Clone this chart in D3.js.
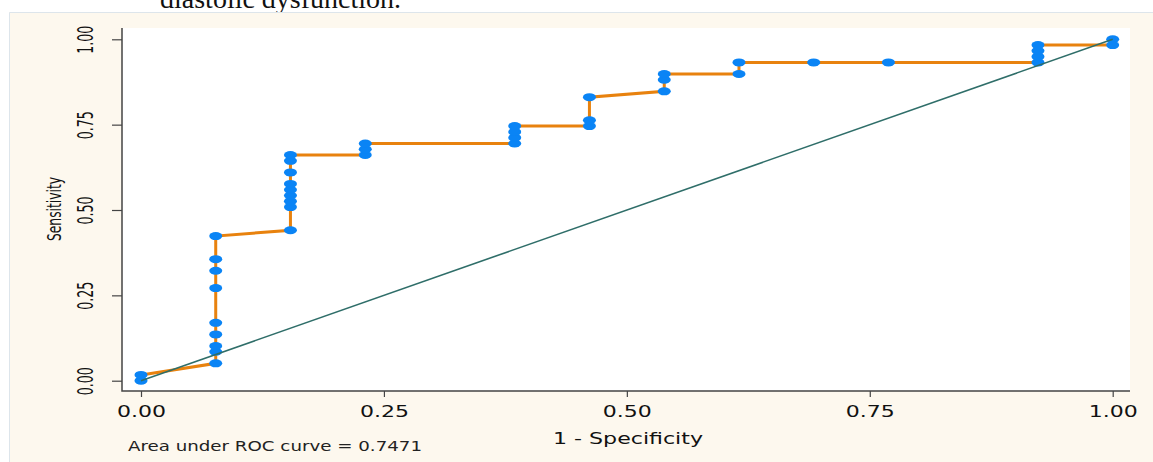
<!DOCTYPE html>
<html>
<head>
<meta charset="utf-8">
<script src="https://cdn.jsdelivr.net/npm/d3@7"></script>
<style>
  html, body { margin: 0; padding: 0; background: #fff; }
  svg { display: block; }
</style>
</head>
<body>
<svg id="Chart"></svg>
<script>
// ROC curve points (1 - specificity, sensitivity)
let fpr = [0, 0, 0.0769, 0.0769, 0.0769, 0.0769, 0.0769, 0.0769, 0.0769, 0.0769, 0.0769,
    0.1538, 0.1538, 0.1538, 0.1538, 0.1538, 0.1538, 0.1538, 0.1538, 0.1538,
    0.2308, 0.2308, 0.2308, 0.3846, 0.3846, 0.3846, 0.3846,
    0.4615, 0.4615, 0.4615, 0.5385, 0.5385, 0.5385, 0.6154, 0.6154,
    0.6923, 0.7692, 0.9231, 0.9231, 0.9231, 0.9231, 1, 1];
let tpr = [0, 0.0169, 0.0508, 0.0847, 0.1017, 0.1356, 0.1695, 0.2712, 0.3220, 0.3559, 0.4237,
    0.4407, 0.5085, 0.5254, 0.5424, 0.5593, 0.5763, 0.6102, 0.6441, 0.6610,
    0.6610, 0.6780, 0.6949, 0.6949, 0.7119, 0.7288, 0.7458,
    0.7458, 0.7627, 0.8305, 0.8475, 0.8814, 0.8983, 0.8983, 0.9322,
    0.9322, 0.9322, 0.9322, 0.9492, 0.9661, 0.9831, 0.9831, 1];
let refLine = [0, 1];
let tickValues = [0, 0.25, 0.5, 0.75, 1];
let xTitle = '1 - Specificity';
let yTitle = 'Sensitivity';
let aucNote = 'Area under ROC curve = 0.7471';
let captionTail = 'diastolic dysfunction.';

function getConfig() {
    let width = 1153;
    let height = 462;
    let plot = { left: 122, right: 1130, top: 28, bottom: 391 };
    let container = d3.select('#Chart')
        .attr('width', width)
        .attr('height', height);
    return { width, height, plot, container };
}

function getScales() {
    let xScale = d3.scaleLinear().domain([0, 1]).range([141, 1112.7]);
    let yScale = d3.scaleLinear().domain([0, 1]).range([380.7, 39.3]);
    return { xScale, yScale };
}

function drawFrame(config) {
    let { container, width, height, plot } = config;
    container.append('rect')
        .attr('width', width).attr('height', height).attr('fill', '#fff');

    // caption text cut off at the top of the page
    container.append('text')
        .attr('x', 160).attr('y', 7.5)
        .attr('font-family', 'Liberation Serif, Times New Roman, serif')
        .attr('font-size', 28)
        .attr('fill', '#111')
        .text(captionTail);

    container.append('rect')
        .attr('x', 9).attr('y', 12)
        .attr('width', width - 9).attr('height', height - 12)
        .attr('fill', '#fdf8ee');
    container.append('path')
        .attr('d', `M9.5,${height}V12.5H${width}`)
        .attr('fill', 'none').attr('stroke', '#dde5eb').attr('stroke-width', 1);

    container.append('rect')
        .attr('x', plot.left).attr('y', plot.top)
        .attr('width', plot.right - plot.left).attr('height', plot.bottom - plot.top)
        .attr('fill', '#fff');
}

function drawAxes(config, scales) {
    let { container, plot } = config;
    let { xScale, yScale } = scales;
    let fmt = d3.format('.2f');

    let axisX = d3.axisBottom(xScale).tickValues(tickValues).tickFormat(fmt).tickSize(6);
    let gx = container.append('g')
        .attr('transform', `translate(0,${plot.bottom})`)
        .call(axisX);
    gx.select('.domain').remove();
    gx.selectAll('line').attr('stroke', '#444').attr('stroke-width', 1.2);
    gx.selectAll('text')
        .attr('y', 26).attr('dy', 0)
        .attr('font-family', 'DejaVu Sans, Verdana, sans-serif')
        .attr('font-size', 16)
        .attr('textLength', 49).attr('lengthAdjust', 'spacingAndGlyphs')
        .attr('fill', '#111');

    let axisY = d3.axisLeft(yScale).tickValues(tickValues).tickFormat(fmt).tickSize(10);
    let gy = container.append('g')
        .attr('transform', `translate(${plot.left},0)`)
        .call(axisY);
    gy.select('.domain').remove();
    gy.selectAll('line').attr('stroke', '#444').attr('stroke-width', 1.2);
    gy.selectAll('text')
        .attr('x', 0).attr('y', 0).attr('dy', 0)
        .attr('text-anchor', 'middle')
        .attr('transform', 'translate(-29,0) rotate(-90)')
        .attr('font-family', 'DejaVu Sans, Tahoma, sans-serif')
        .attr('font-size', 21)
        .attr('textLength', 28).attr('lengthAdjust', 'spacingAndGlyphs')
        .attr('fill', '#111');

    // axis lines along the plot region edges
    container.append('path')
        .attr('d', `M${plot.left},${plot.top}V${plot.bottom}H${plot.right}`)
        .attr('fill', 'none').attr('stroke', '#444').attr('stroke-width', 1.5);

    container.append('text')
        .attr('x', 628).attr('y', 444)
        .attr('text-anchor', 'middle')
        .attr('font-family', 'DejaVu Sans, Verdana, sans-serif')
        .attr('font-size', 15)
        .attr('textLength', 150).attr('lengthAdjust', 'spacingAndGlyphs')
        .attr('fill', '#111')
        .text(xTitle);

    container.append('text')
        .attr('transform', 'translate(61,209) rotate(-90)')
        .attr('text-anchor', 'middle')
        .attr('font-family', 'DejaVu Sans, Tahoma, sans-serif')
        .attr('font-size', 19)
        .attr('textLength', 64).attr('lengthAdjust', 'spacingAndGlyphs')
        .attr('fill', '#111')
        .text(yTitle);

    container.append('text')
        .attr('x', 128).attr('y', 451)
        .attr('font-family', 'DejaVu Sans, Verdana, sans-serif')
        .attr('font-size', 13.5)
        .attr('textLength', 294).attr('lengthAdjust', 'spacingAndGlyphs')
        .attr('fill', '#222')
        .text(aucNote);
}

function drawCurve(config, scales) {
    let { container } = config;
    let { xScale, yScale } = scales;
    let points = fpr.map((d, i) => ({ x: d, y: tpr[i] }));

    let line = d3.line().x(d => xScale(d.x)).y(d => yScale(d.y));

    container.append('path')
        .datum(points)
        .attr('d', line)
        .attr('fill', 'none')
        .attr('stroke', '#e8820e')
        .attr('stroke-width', 3);

    container.selectAll('.pt').data(points)
        .enter().append('ellipse')
        .attr('class', 'pt')
        .attr('cx', d => xScale(d.x))
        .attr('cy', d => yScale(d.y))
        .attr('rx', 6.5)
        .attr('ry', 4)
        .attr('fill', '#0a84f5');

    // reference diagonal drawn over the curve
    container.append('line')
        .attr('x1', xScale(refLine[0])).attr('y1', yScale(refLine[0]))
        .attr('x2', xScale(refLine[1])).attr('y2', yScale(refLine[1]))
        .attr('stroke', '#2f6e69')
        .attr('stroke-width', 1.6);
}

let config = getConfig();
let scales = getScales();
drawFrame(config);
drawAxes(config, scales);
drawCurve(config, scales);
</script>
</body>
</html>
